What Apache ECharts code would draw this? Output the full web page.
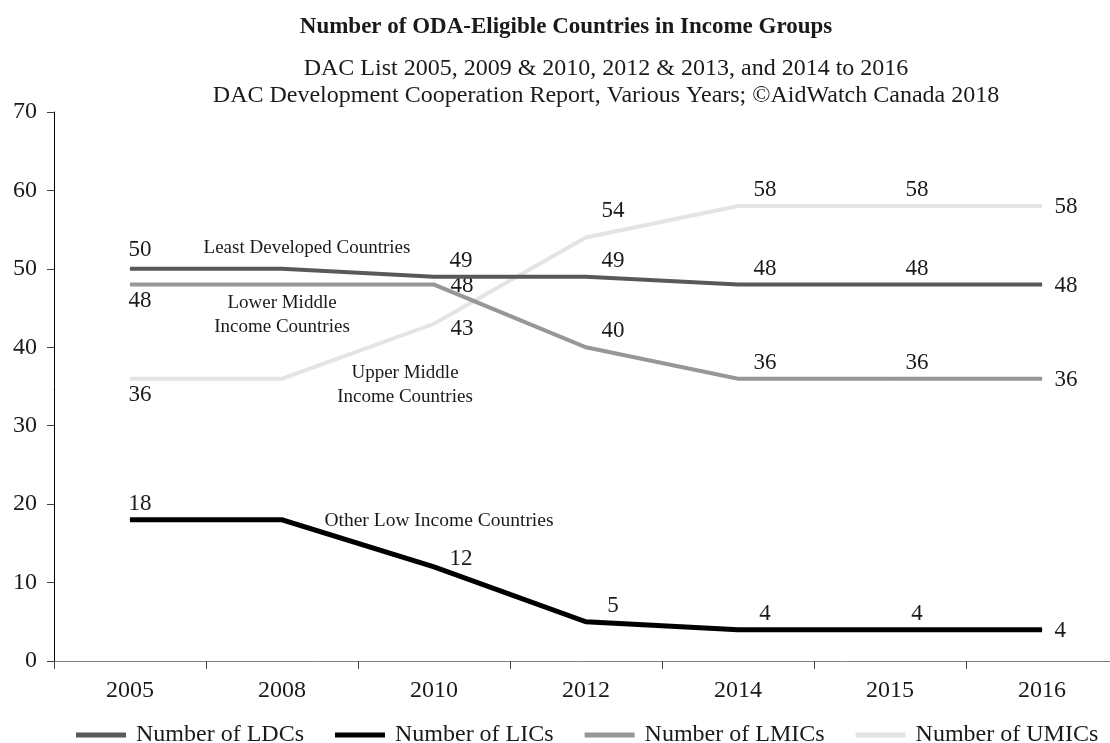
<!DOCTYPE html>
<html>
<head>
<meta charset="utf-8">
<script src="https://cdn.jsdelivr.net/npm/echarts@6/dist/echarts.min.js"></script>
<style>
  html, body { margin: 0; padding: 0; background: #ffffff; }
  #chart { width: 1110px; height: 743px; }
</style>
</head>
<body>
<div id="chart"></div>
<script>
// ---- data ----
const categories = ['2005', '2008', '2010', '2012', '2014', '2015', '2016'];
const seriesNames = ['Number of LDCs', 'Number of LICs', 'Number of LMICs', 'Number of UMICs'];
const ldcs  = [50, 50, 49, 49, 48, 48, 48];
const lics  = [18, 18, 12, 5, 4, 4, 4];
const lmics = [48, 48, 48, 40, 36, 36, 36];
const umics = [36, 36, 43, 54, 58, 58, 58];
const yMin = 0, yMax = 70, yStep = 10;
const titleText = 'Number of ODA-Eligible Countries in Income Groups';
const subtitleLines = ['DAC List 2005, 2009 & 2010, 2012 & 2013, and 2014 to 2016',
                       'DAC Development Cooperation Report, Various Years; \u00A9AidWatch Canada 2018'];
const groupNames = ['Least Developed Countries', 'Lower Middle\nIncome Countries',
                    'Upper Middle\nIncome Countries', 'Other Low Income Countries'];

// ---- styles ----
const FONT = 'Liberation Serif';
const TXT = '#1a1a1a';
const colors = ['#595959', '#000000', '#979797', '#e4e4e4'];
const widths = [4, 5, 4, 4];
const zs = [4, 3, 2, 1];
// label placement per point (style only)
const places = [
  ['top', 'none', 'top', 'top', 'top', 'top', 'right'],
  ['top', 'none', 'top', 'top', 'top', 'top', 'right'],
  ['bottom', 'none', 'right', 'top', 'top', 'top', 'right'],
  ['bottom', 'none', 'right', 'top', 'top', 'top', 'right']
];
// small vertical nudges of individual labels (style only)
const nudges = [
  [-3, 0, 0, 0, 0, 0, 0],
  [0, 0, 8, 0, 0, 0, 0],
  [0, 0, 0, 0, 0, 0, 0],
  [0, 0, 4, -11, 0, 0, 0]
];
const values = [ldcs, lics, lmics, umics];

function offsetFor(i, p, dy) {
  if (p === 'right') return i === categories.length - 1 ? [0, 1 + dy] : [4, 1 + dy];
  return [i === 0 ? 10 : 27, dy];
}
function buildData(vals, pl, nd) {
  return vals.map((v, i) => ({
    value: v,
    label: {
      show: pl[i] !== 'none',
      position: pl[i] === 'none' ? 'top' : pl[i],
      distance: pl[i] === 'right' ? 12 : 4,
      offset: offsetFor(i, pl[i], nd[i])
    }
  }));
}

const series = seriesNames.map((name, k) => ({
  name: name,
  type: 'line',
  data: buildData(values[k], places[k], nudges[k]),
  z: zs[k],
  symbol: 'circle',
  symbolSize: 1,
  itemStyle: { color: colors[k] },
  lineStyle: { color: colors[k], width: widths[k], cap: 'butt', join: 'miter' },
  label: { show: true, fontFamily: FONT, fontSize: 23, color: TXT },
  emphasis: { disabled: true },
  animation: false
}));

const chart = echarts.init(document.getElementById('chart'), null, { renderer: 'canvas' });
chart.setOption({
  backgroundColor: '#ffffff',
  animation: false,
  title: [
    { text: titleText, left: 566, top: 16, textAlign: 'center', padding: 0,
      textStyle: { fontFamily: FONT, fontSize: 23, fontWeight: 'bold', color: TXT } },
    { text: subtitleLines.join('\n'), left: 606, top: 55, textAlign: 'center', padding: 0,
      textStyle: { fontFamily: FONT, fontSize: 24, fontWeight: 'normal', color: TXT, lineHeight: 27 } }
  ],
  grid: { left: 54, width: 1064, top: 112, height: 549, containLabel: false, outerBoundsMode: 'none' },
  legend: {
    data: seriesNames,
    top: 723,
    left: 76,
    width: 1060,
    padding: 0,
    icon: 'rect',
    itemWidth: 50,
    itemHeight: 5,
    itemGap: 31,
    textStyle: { fontFamily: FONT, fontSize: 24, color: TXT, padding: [0, 0, 0, 5] }
  },
  xAxis: {
    type: 'category',
    data: categories,
    boundaryGap: true,
    axisLine: { lineStyle: { color: '#808080', width: 1 } },
    axisTick: { show: true, length: 8, lineStyle: { color: '#404040' } },
    axisLabel: { fontFamily: FONT, fontSize: 24, color: TXT, margin: 18 },
    splitLine: { show: false }
  },
  yAxis: {
    type: 'value',
    min: yMin, max: yMax, interval: yStep,
    axisLine: { show: true, lineStyle: { color: '#000000', width: 1 } },
    axisTick: { show: true, length: 7, lineStyle: { color: '#404040' } },
    axisLabel: { fontFamily: FONT, fontSize: 24, color: TXT, margin: 17 },
    splitLine: { show: false }
  },
  graphic: [
    { type: 'text', x: 307, y: 248, style: { text: groupNames[0], fontFamily: FONT, fontSize: 19, fill: TXT, align: 'center', verticalAlign: 'middle' } },
    { type: 'text', x: 282, y: 315, style: { text: groupNames[1], fontFamily: FONT, fontSize: 19, lineHeight: 24, fill: TXT, align: 'center', verticalAlign: 'middle' } },
    { type: 'text', x: 405, y: 385, style: { text: groupNames[2], fontFamily: FONT, fontSize: 19, lineHeight: 24, fill: TXT, align: 'center', verticalAlign: 'middle' } },
    { type: 'text', x: 439, y: 521, style: { text: groupNames[3], fontFamily: FONT, fontSize: 19.5, fill: TXT, align: 'center', verticalAlign: 'middle' } }
  ],
  series: series
});
</script>
</body>
</html>
